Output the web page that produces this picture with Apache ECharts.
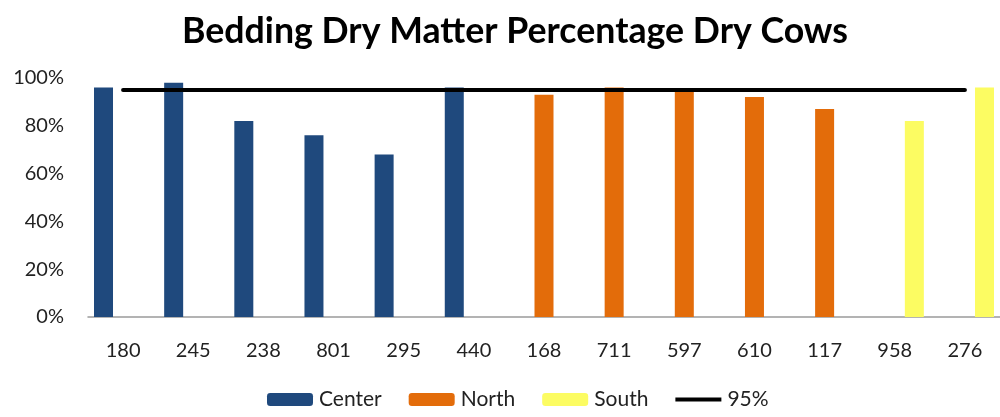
<!DOCTYPE html>
<html>
<head>
<meta charset="utf-8">
<style>
  html, body { margin: 0; padding: 0; background: #ffffff; }
  #chart { width: 1000px; height: 417px; }
</style>
<script src="https://cdn.jsdelivr.net/npm/echarts@6/dist/echarts.min.js"></script>
</head>
<body>
<div id="chart"></div>
<script>
// Farm IDs along the x axis
const farms = ['180', '245', '238', '801', '295', '440', '168', '711', '597', '610', '117', '958', '276'];

// Bedding dry matter (%) per region; null where the farm is in another region
const center = [96, 98, 82, 76, 68, 96, null, null, null, null, null, null, null];
const north  = [null, null, null, null, null, null, 93, 96, 95, 92, 87, null, null];
const south  = [null, null, null, null, null, null, null, null, null, null, null, 82, 96];

// Target line
const target = [95, 95, 95, 95, 95, 95, 95, 95, 95, 95, 95, 95, 95];

// Y axis ticks
const yTicks = { min: 0, max: 100, interval: 20 };

const FONT = 'Lato, "Open Sans", "DejaVu Sans", sans-serif';
const chart = echarts.init(document.getElementById('chart'));

const barCommon = {
  type: 'bar',
  barWidth: 19,
  barGap: '3%',
  barCategoryGap: '17%'
};

chart.setOption({
  animation: false,
  backgroundColor: '#ffffff',
  title: {
    text: 'Bedding Dry Matter Percentage Dry Cows',
    left: 177,
    top: 8,
    textStyle: { fontFamily: FONT, fontWeight: 'bold', fontSize: 35.7, color: '#000000' }
  },
  legend: {
    bottom: 2,
    left: 262,
    itemWidth: 46,
    itemHeight: 13,
    itemGap: 27,
    textStyle: { fontFamily: FONT, fontSize: 21, color: '#222222', padding: [0, 0, 0, 1] },
    data: ['Center', 'North', 'South', { name: '95%', icon: 'path://M0,0 L46,0 L46,4 L0,4 Z' }]
  },
  grid: { left: 88, right: -6, top: 78, bottom: 100, containLabel: false },
  xAxis: {
    type: 'category',
    data: farms,
    boundaryGap: true,
    axisLine: { show: true, lineStyle: { color: '#9a9a9a', width: 1.5 } },
    axisTick: { show: false },
    axisLabel: { fontFamily: FONT, fontSize: 20, color: '#222222', margin: 24 },
    splitLine: { show: false }
  },
  yAxis: {
    type: 'value',
    min: yTicks.min,
    max: yTicks.max,
    interval: yTicks.interval,
    axisLine: { show: false },
    axisTick: { show: false },
    splitLine: { show: false },
    axisLabel: {
      fontFamily: FONT, fontSize: 20, color: '#222222', margin: 24,
      formatter: '{value}%', padding: [9, 0, 0, 0]
    }
  },
  series: [
    Object.assign({ name: 'Center', data: center, itemStyle: { color: '#1f497d' } }, barCommon),
    Object.assign({ name: 'North', data: north, itemStyle: { color: '#e36c0a' } }, barCommon),
    Object.assign({ name: 'South', data: south, itemStyle: { color: '#fcfc62' } }, barCommon),
    {
      name: '95%',
      type: 'line',
      data: target,
      symbol: 'none',
      itemStyle: { color: '#000000' },
      lineStyle: { color: '#000000', width: 4, cap: 'round' },
      z: 5
    }
  ]
});
</script>
</body>
</html>
